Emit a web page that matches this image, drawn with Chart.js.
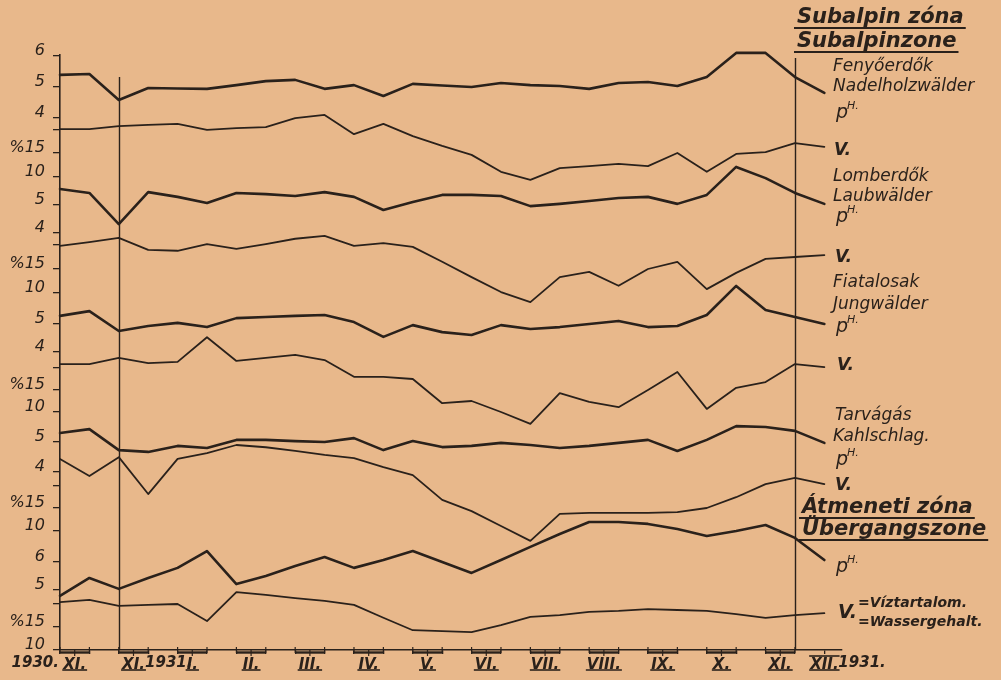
<!DOCTYPE html>
<html>
<head>
<meta charset="utf-8">
<script src="https://cdn.jsdelivr.net/npm/chart.js@4.4.1/dist/chart.umd.min.js"></script>
<style>
  html, body { margin: 0; padding: 0; background: #e8b88b; }
  #wrap { position: relative; width: 1001px; height: 680px; }
</style>
</head>
<body>
<div id="wrap"><canvas id="c"></canvas></div>
<script>
// Sampling dates in half-month steps: 0 = start of November 1930, 26 = December 1931
const samples = [0, 1, 2, 3, 4, 5, 6, 7, 8, 9, 10, 11, 12, 13, 14, 15, 16, 17, 18, 19, 20, 21, 22, 23, 24, 25, 26];

// Subalpin zóna – Fenyőerdők / Nadelholzwälder
const phFenyo = [5.39, 5.42, 4.58, 4.97, 4.95, 4.94, 5.06, 5.19, 5.23, 4.94, 5.06, 4.71, 5.10, 5.05, 5.00, 5.13, 5.06, 5.03, 4.94, 5.13, 5.16, 5.03, 5.32, 6.10, 6.10, 5.32, 4.81];
const vFenyo  = [20.1, 20.1, 20.7, 21.0, 21.2, 19.9, 20.3, 20.5, 22.4, 23.1, 19.0, 21.2, 18.6, 16.5, 14.6, 11.0, 9.3, 11.8, 12.2, 12.7, 12.2, 15.0, 11.0, 14.8, 15.2, 17.1, 16.3];

// Lomberdők / Laubwälder
const phLomb = [5.57, 5.43, 4.32, 5.46, 5.29, 5.07, 5.43, 5.39, 5.32, 5.46, 5.29, 4.82, 5.11, 5.36, 5.36, 5.32, 4.96, 5.04, 5.14, 5.25, 5.29, 5.04, 5.36, 6.36, 5.96, 5.43, 5.04];
const vLomb  = [19.8, 20.6, 21.5, 19.0, 18.8, 20.2, 19.2, 20.2, 21.3, 21.9, 19.8, 20.4, 19.6, 16.5, 13.3, 10.2, 8.1, 13.3, 14.4, 11.5, 15.0, 16.5, 10.8, 14.2, 17.1, 17.5, 17.9];

// Fiatalosak / Jungwälder
const phFiatal = [5.29, 5.46, 4.75, 4.93, 5.04, 4.89, 5.21, 5.25, 5.29, 5.32, 5.07, 4.54, 4.96, 4.71, 4.61, 4.96, 4.82, 4.89, 5.00, 5.11, 4.89, 4.93, 5.32, 6.36, 5.50, 5.25, 5.00];
const vFiatal  = [20.9, 20.9, 22.3, 21.1, 21.4, 27.0, 21.6, 22.3, 23.0, 21.8, 18.0, 18.0, 17.5, 12.0, 12.5, 10.0, 7.3, 14.3, 12.3, 11.1, 15.0, 19.1, 10.7, 15.5, 16.8, 20.9, 20.2];

// Tarvágás / Kahlschlag
const phTarv = [5.30, 5.43, 4.73, 4.67, 4.87, 4.80, 5.07, 5.07, 5.03, 5.00, 5.13, 4.73, 5.03, 4.83, 4.87, 4.97, 4.90, 4.80, 4.87, 4.97, 5.07, 4.70, 5.07, 5.53, 5.50, 5.37, 4.97];
const vTarv  = [25.9, 22.1, 26.3, 18.1, 25.9, 27.2, 29.0, 28.5, 27.7, 26.8, 26.1, 24.1, 22.3, 16.8, 14.3, 11.0, 7.7, 13.7, 13.9, 13.9, 13.9, 14.1, 15.0, 17.4, 20.3, 21.7, 20.3];

// Átmeneti zóna / Übergangszone
const phAtm = [4.79, 5.43, 5.04, 5.43, 5.79, 6.39, 5.21, 5.50, 5.86, 6.18, 5.79, 6.07, 6.39, 6.00, 5.61, 6.07, 6.54, 7.00, 7.43, 7.43, 7.36, 7.18, 6.93, 7.11, 7.32, 6.86, 6.07];
const vAtm  = [20.4, 20.9, 19.6, 19.8, 20.0, 16.3, 22.6, 22.0, 21.3, 20.7, 19.8, 17.0, 14.3, 14.1, 13.9, 15.4, 17.2, 17.6, 18.3, 18.5, 18.9, 18.7, 18.5, 17.8, 17.0, 17.6, 18.0];

// Month ticks on the time axis
const monthAt    = [0.5, 2.5, 4.5, 6.5, 8.5, 10.5, 12.5, 14.5, 16.5, 18.5, 20.5, 22.5, 24.5, 26];
const monthNames = ['XI.', 'XI.', 'I.', 'II.', 'III.', 'IV.', 'V.', 'VI.', 'VII.', 'VIII.', 'IX.', 'X.', 'XI.', 'XII.'];

// Value ticks of the stacked left scales
const phTicksHigh = [6, 5, 4];
const phTicks     = [5, 4];
const phTicksLow  = [6, 5];
const pctTicks    = [20, 15, 10];

// ---------------------------------------------------------------------------
const INK = '#2a211b';
const FACE = "'DejaVu Sans', sans-serif";
const AREA = { top: 55, bottom: 650, left: 60, right: 842 };

// each curve has its own vertical scale: a reference value, its pixel row and pixels per unit
const axisCal = [
  { id: 'phFenyo',  ref: 5,  at: 87,  perUnit: 31,  ticks: phTicksHigh, pct: false },
  { id: 'vFenyo',   ref: 15, at: 153, perUnit: 4.7, ticks: pctTicks,    pct: true },
  { id: 'phLomb',   ref: 5,  at: 205, perUnit: 28,  ticks: phTicks,     pct: false },
  { id: 'vLomb',    ref: 15, at: 269, perUnit: 4.8, ticks: pctTicks,    pct: true },
  { id: 'phFiatal', ref: 5,  at: 324, perUnit: 28,  ticks: phTicks,     pct: false },
  { id: 'vFiatal',  ref: 15, at: 390, perUnit: 4.4, ticks: pctTicks,    pct: true },
  { id: 'phTarv',   ref: 5,  at: 442, perUnit: 30,  ticks: phTicks,     pct: false },
  { id: 'vTarv',    ref: 15, at: 508, perUnit: 4.5, ticks: pctTicks,    pct: true },
  { id: 'phAtm',    ref: 6,  at: 562, perUnit: 28,  ticks: phTicksLow,  pct: false },
  { id: 'vAtm',     ref: 15, at: 627, perUnit: 4.6, ticks: pctTicks,    pct: true }
];

const series = [
  { axis: 'phFenyo',  values: phFenyo,  ph: true },
  { axis: 'vFenyo',   values: vFenyo,   ph: false },
  { axis: 'phLomb',   values: phLomb,   ph: true },
  { axis: 'vLomb',    values: vLomb,    ph: false },
  { axis: 'phFiatal', values: phFiatal, ph: true },
  { axis: 'vFiatal',  values: vFiatal,  ph: false },
  { axis: 'phTarv',   values: phTarv,   ph: true },
  { axis: 'vTarv',    values: vTarv,    ph: false },
  { axis: 'phAtm',    values: phAtm,    ph: true },
  { axis: 'vAtm',     values: vAtm,     ph: false }
];

const scales = {
  x: {
    type: 'linear',
    position: 'bottom',
    min: 0,
    max: 26.6,
    bounds: 'data',
    afterFit: s => { s.height = 30; },
    afterBuildTicks: s => {
      const vals = samples.concat(monthAt.filter(v => samples.indexOf(v) < 0)).sort((a, b) => a - b);
      s.ticks = vals.map(v => ({ value: v }));
    },
    ticks: {
      autoSkip: false,
      maxRotation: 0,
      padding: 2,
      color: INK,
      font: { family: FACE, size: 15, weight: 'bold', style: 'italic' },
      callback: v => { const i = monthAt.indexOf(v); return i >= 0 ? monthNames[i] : ''; }
    },
    grid: {
      drawOnChartArea: false,
      drawTicks: true,
      tickLength: 4,
      lineWidth: 1.3,
      color: INK,
      tickColor: ctx => (ctx.tick && Number.isInteger(ctx.tick.value)) ? INK : 'rgba(0,0,0,0)'
    },
    border: { display: true, color: INK, width: 1.6 }
  }
};

axisCal.forEach((c, i) => {
  scales[c.id] = {
    type: 'linear',
    axis: 'y',
    position: 'left',
    min: c.ref - (AREA.bottom - c.at) / c.perUnit,
    max: c.ref + (c.at - AREA.top) / c.perUnit,
    bounds: 'data',
    // all left scales share the same column
    afterFit: s => { s.width = 0; },
    afterBuildTicks: s => { s.ticks = c.ticks.map(v => ({ value: v })); },
    ticks: {
      autoSkip: false,
      padding: 8,
      labelOffset: -5,
      color: INK,
      font: { family: FACE, size: 16, style: 'italic' },
      callback: v => c.pct ? (v === 15 ? '%15' : v === 10 ? '10' : '') : String(v)
    },
    grid: { drawOnChartArea: false, drawTicks: true, tickLength: 7, color: INK, lineWidth: 1.3 },
    border: { display: i === 0, color: INK, width: 1.6 }
  };
});

const datasets = series.map(s => ({
  data: samples.map((x, i) => ({ x: x, y: s.values[i] })),
  yAxisID: s.axis,
  xAxisID: 'x',
  borderColor: INK,
  borderWidth: s.ph ? 2.6 : 1.8,
  borderJoinStyle: 'round',
  borderCapStyle: 'round',
  pointRadius: 0,
  tension: 0,
  fill: false,
  clip: false
}));

// Notes written beside the curves on the right
const notes = [
  { t: 'Subalpin zóna', x: 797, y: 23, size: 21, bold: true, under: true },
  { t: 'Subalpinzone', x: 797, y: 47, size: 21, bold: true, under: true },
  { t: 'Fenyőerdők', x: 833, y: 71, size: 17 },
  { t: 'Nadelholzwälder', x: 833, y: 91, size: 17 },
  { ph: true, x: 836, y: 118 },
  { t: 'V.', x: 834, y: 155, size: 17, bold: true },
  { t: 'Lomberdők', x: 833, y: 181, size: 17 },
  { t: 'Laubwälder', x: 833, y: 201, size: 17 },
  { ph: true, x: 836, y: 222 },
  { t: 'V.', x: 835, y: 262, size: 17, bold: true },
  { t: 'Fiatalosak', x: 833, y: 287, size: 17 },
  { t: 'Jungwälder', x: 833, y: 309, size: 17 },
  { ph: true, x: 836, y: 332 },
  { t: 'V.', x: 837, y: 370, size: 17, bold: true },
  { t: 'Tarvágás', x: 835, y: 420, size: 17 },
  { t: 'Kahlschlag.', x: 833, y: 441, size: 17 },
  { ph: true, x: 836, y: 465 },
  { t: 'V.', x: 835, y: 490, size: 17, bold: true },
  { t: 'Átmeneti zóna', x: 802, y: 513, size: 21, bold: true, under: true },
  { t: 'Übergangszone', x: 802, y: 535, size: 21, bold: true, under: true },
  { ph: true, x: 836, y: 572 },
  { t: 'V.', x: 838, y: 618, size: 19, bold: true },
  { t: '=Víztartalom.', x: 858, y: 607, size: 14, bold: true },
  { t: '=Wassergehalt.', x: 858, y: 626, size: 14, bold: true }
];

// Year captions next to the month numerals
const yearNotes = [
  { at: 0, t: '1930.', align: 'right', dx: -1 },
  { at: 3.7, t: '1931.', align: 'center', dx: 0 },
  { at: 26, t: '1931.', align: 'left', dx: 14 }
];

// Separating verticals: first sampling of the year and last month
const dividers = [{ at: 2, from: 77 }, { at: 25, from: 58 }];

// the left scales are zero-width; give their label strip room so the labels are not clipped
const labelStrip = {
  id: 'labelStrip',
  afterLayout(chart) {
    axisCal.forEach(c => { const s = chart.scales[c.id]; if (s) s.left = 0; });
  }
};

const inkPlugin = {
  id: 'inkNotes',
  afterDraw(chart) {
    const ctx = chart.ctx;
    const xs = chart.scales.x;
    const bottom = chart.chartArea.bottom;
    ctx.save();
    ctx.strokeStyle = INK;
    ctx.fillStyle = INK;
    ctx.lineCap = 'butt';

    dividers.forEach(d => {
      const x = Math.round(xs.getPixelForValue(d.at)) + 0.5;
      ctx.lineWidth = 1.4;
      ctx.beginPath(); ctx.moveTo(x, d.from); ctx.lineTo(x, bottom); ctx.stroke();
    });

    // month spans under the axis line
    ctx.font = `italic bold 15px ${FACE}`;
    monthAt.forEach((v, i) => {
      const cx = xs.getPixelForValue(v);
      const w = ctx.measureText(monthNames[i]).width;
      if (v % 1 !== 0) {
        const a = xs.getPixelForValue(v - 0.5), b = xs.getPixelForValue(v + 0.5);
        ctx.lineWidth = 2.4;
        ctx.beginPath(); ctx.moveTo(a, bottom + 2.5); ctx.lineTo(b, bottom + 2.5); ctx.stroke();
        ctx.lineWidth = 1.2;
        ctx.beginPath(); ctx.moveTo(cx, bottom); ctx.lineTo(cx, bottom + 6); ctx.stroke();
        [a, b].forEach(p => { ctx.beginPath(); ctx.moveTo(p, bottom - 3); ctx.lineTo(p, bottom + 3); ctx.stroke(); });
      } else {
        ctx.lineWidth = 1.6;
        ctx.beginPath(); ctx.moveTo(cx - w / 2 - 1, bottom + 6); ctx.lineTo(cx + w / 2 + 1, bottom + 6); ctx.stroke();
      }
      ctx.lineWidth = 1.6;
      ctx.beginPath(); ctx.moveTo(cx - w / 2 - 1, bottom + 20); ctx.lineTo(cx + w / 2 + 1, bottom + 20); ctx.stroke();
    });

    ctx.font = `italic bold 15px ${FACE}`;
    ctx.textBaseline = 'alphabetic';
    yearNotes.forEach(n => {
      ctx.textAlign = n.align;
      ctx.fillText(n.t, xs.getPixelForValue(n.at) + n.dx, bottom + 17);
    });

    ctx.textAlign = 'left';
    notes.forEach(n => {
      if (n.ph) {
        ctx.font = `italic 19px ${FACE}`;
        ctx.fillText('p', n.x, n.y);
        const pw = ctx.measureText('p').width;
        ctx.font = `italic 11px ${FACE}`;
        ctx.fillText('H.', n.x + pw - 1, n.y - 9);
        return;
      }
      ctx.font = `italic ${n.bold ? 'bold ' : ''}${n.size}px ${FACE}`;
      ctx.fillText(n.t, n.x, n.y);
      if (n.under) {
        const w = ctx.measureText(n.t).width;
        ctx.lineWidth = 1.8;
        ctx.beginPath(); ctx.moveTo(n.x - 3, n.y + 5); ctx.lineTo(n.x + w + 2, n.y + 5); ctx.stroke();
      }
    });
    ctx.restore();
  }
};

Chart.defaults.font.family = FACE;
new Chart(document.getElementById('c'), {
  type: 'line',
  data: { datasets: datasets },
  options: {
    responsive: true,
    maintainAspectRatio: false,
    devicePixelRatio: 1,
    animation: false,
    events: [],
    layout: { padding: { left: AREA.left, top: AREA.top, right: 1001 - AREA.right, bottom: 0 } },
    plugins: { legend: { display: false }, title: { display: false }, tooltip: { enabled: false } },
    scales: scales
  },
  plugins: [labelStrip, inkPlugin]
});
</script>
</body>
</html>
